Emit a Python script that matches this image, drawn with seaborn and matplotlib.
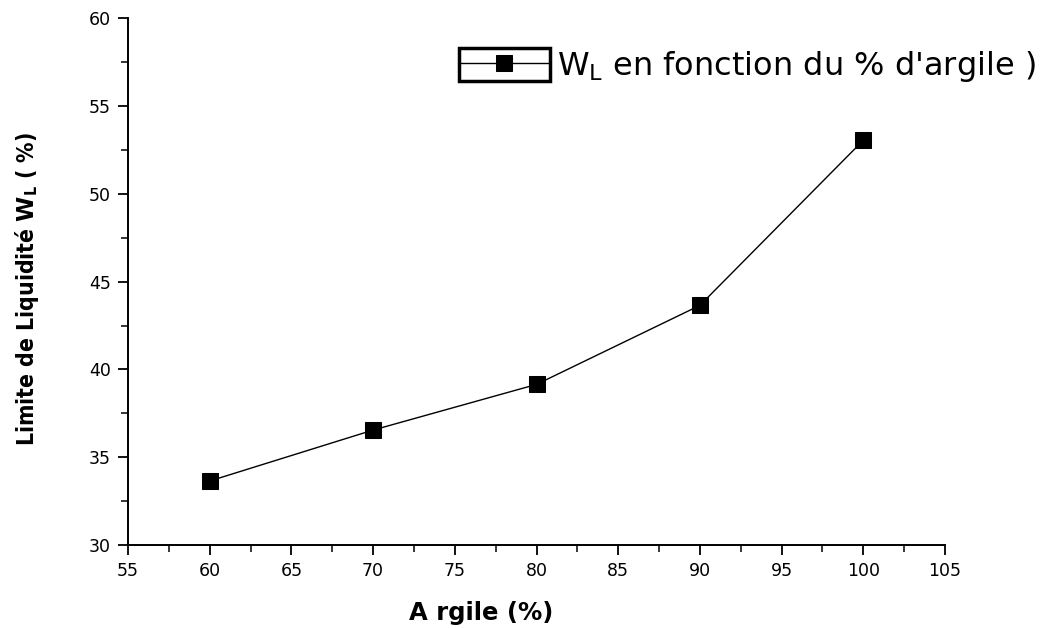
import pandas as pd
import matplotlib.pyplot as plt
import seaborn as sns
from matplotlib.patches import Rectangle
from matplotlib.ticker import MultipleLocator

# === Data ===
argile = [60, 70, 80, 90, 100]
wl = [33.65, 36.55, 39.15, 43.65, 53.05]
series_label = r"W$_{\mathregular{L}}$ en fonction du % d'argile )"

df = pd.DataFrame({"argile": argile, "wl": wl})

sns.set_style("ticks")
plt.rcParams['font.family'] = ['DejaVu Sans']
plt.rcParams['text.color'] = 'black'
plt.rcParams['axes.labelcolor'] = 'black'

fig = plt.figure(figsize=(10.44, 6.28), dpi=100)
ax = fig.add_axes([0.1226, 0.132, 0.7826, 0.839])

sns.lineplot(data=df, x="argile", y="wl", ax=ax, color="black", linewidth=1,
             marker="s", markersize=11, markeredgecolor="black", label=series_label)

ax.set_xlim(55, 105)
ax.set_ylim(30, 60)
ax.xaxis.set_major_locator(MultipleLocator(5))
ax.xaxis.set_minor_locator(MultipleLocator(2.5))
ax.yaxis.set_major_locator(MultipleLocator(5))
ax.yaxis.set_minor_locator(MultipleLocator(2.5))
ax.tick_params(which="major", direction="out", length=7.5, width=1.3, labelsize=12.5,
               colors="black", pad=5)
ax.tick_params(which="minor", direction="out", length=5, width=1.3)
for s in ["left", "bottom"]:
    ax.spines[s].set_linewidth(1.4)
    ax.spines[s].set_color("black")
sns.despine(ax=ax)

ax.set_xlabel("A rgile (%)", fontsize=17.5, fontweight="bold")
ax.xaxis.set_label_coords(0.432, -0.107)
ax.set_ylabel(r"Limite de Liquidité $\mathbf{W}_{\mathregular{L}}$ ( %)", fontsize=16.5,
              fontweight="bold", fontstretch="condensed")
ax.yaxis.set_label_coords(-0.107, 0.487)

# === Legend ===
leg = ax.legend(loc="center left", bbox_to_anchor=(459 / 1044, 1 - 66 / 628),
                bbox_transform=fig.transFigure, frameon=False, fontsize=23,
                handlelength=2.82, handletextpad=0.24, borderpad=0, borderaxespad=0)
fig.patches.append(Rectangle((459 / 1044, 1 - 81 / 628), 91 / 1044, 33 / 628,
                             transform=fig.transFigure, fill=False,
                             edgecolor="black", linewidth=2.5))

fig.savefig("out.png", dpi=100)
